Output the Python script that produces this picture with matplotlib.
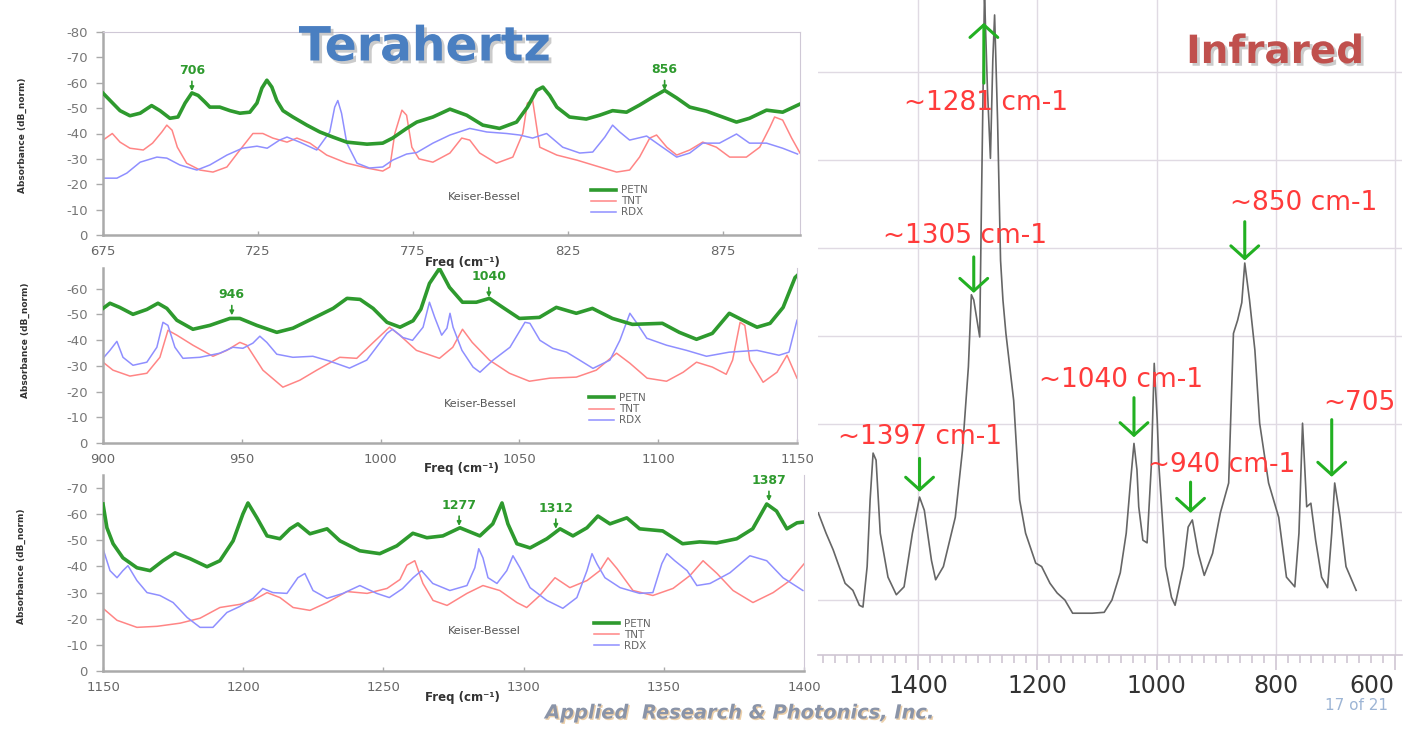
import numpy as np
import matplotlib
matplotlib.use('Agg')
import matplotlib.pyplot as plt
import matplotlib.patheffects as pe
from matplotlib.ticker import MultipleLocator

plt.rcParams['font.family'] = ['DejaVu Sans']
plt.rcParams['axes.unicode_minus'] = False

# ---- terahertz data: (freq cm-1, absorbance magnitude dB_norm) ----
petn_1 = [(675, 55.9), (677.3, 53), (680.5, 49), (683.7, 47), (687, 48), (690.7, 51), (693.4, 49),
          (696.6, 46), (699.2, 46.5), (701.5, 52), (703.7, 56), (705.7, 55), (707.9, 52.4), (709.5, 50.4),
          (712.7, 50.4), (716, 49), (719.2, 48), (722.4, 48.4), (724.7, 52), (726.3, 57.9), (727.9, 61),
          (729.5, 58.3), (731.1, 53), (733.1, 49), (736.3, 46.5), (740.8, 43.3), (745, 40.6), (749.2, 38.6),
          (753.7, 36.6), (760.2, 35.8), (765.3, 36.2), (768.5, 38.2), (773, 42), (776.3, 44.5), (781.5, 46.5),
          (787, 49.6), (792.4, 47.2), (797.6, 43.3), (803, 42), (808.5, 44.5), (812, 50.4), (815, 57),
          (817, 58.3), (819.2, 55), (821.5, 50.4), (825.6, 46.5), (831, 45.7), (835.3, 47.2), (839.5, 49),
          (844, 48.4), (848.2, 51.2), (852.4, 54.3), (856.3, 57), (860.2, 54), (864.4, 50.4), (869.8, 48.8),
          (875, 46.5), (879.5, 44.5), (883.7, 46), (889.2, 49.2), (894.4, 48.4), (900, 51.6)]
tnt_1 = [(675, 37.4), (678, 40), (680.5, 36.6), (683.7, 34.2), (688, 33.5), (691, 36.2), (694, 40.6),
         (695.6, 43.3), (697.3, 41.3), (699, 34.6), (702, 28.3), (706.3, 25.6), (710.5, 24.8), (715, 26.8),
         (719.2, 33.5), (723.4, 40), (726.6, 40), (729.8, 38.2), (734.4, 36.6), (737.6, 38.2), (741.8, 36.2),
         (747.2, 31.5), (753.7, 28.3), (760.2, 26.4), (765.3, 25.2), (767.6, 26.8), (769.2, 40), (771.5, 49.2),
         (773, 47.2), (774.7, 34.6), (777, 30), (781.5, 28.7), (787, 32.3), (790.8, 38.2), (793.4, 37.4),
         (796.6, 32.3), (802, 28.3), (807.3, 30.7), (810.5, 40), (812, 52), (813.7, 53), (815, 42.5),
         (816, 34.6), (821.5, 31.5), (828, 29.5), (835.3, 26.8), (840.8, 24.8), (845, 25.6), (848.2, 30.7),
         (851.5, 38.2), (853.7, 39.4), (857, 34.6), (860.2, 31.5), (864.4, 33.5), (868.6, 36.6), (873, 34.6),
         (877.3, 30.7), (882.7, 30.7), (887, 34.6), (890.3, 42.5), (891.8, 46.5), (894.4, 45.3), (897.3, 38.2),
         (900, 32.3)]
rdx_1 = [(675, 22.4), (679.5, 22.4), (682.7, 24.4), (687, 28.7), (692.4, 30.7), (695.6, 30.3), (699.8, 27.6),
         (705.3, 25.6), (709.5, 27.6), (715, 31.5), (720, 34.2), (724.7, 35), (728, 34.2), (732, 37.4),
         (734.4, 38.6), (738.5, 36.6), (744, 33.5), (748.2, 40.6), (749.8, 50.4), (750.8, 53), (752, 48),
         (753.7, 36.2), (757, 28.3), (761, 26.4), (765.3, 26.8), (768.5, 29.5), (773, 31.9), (776.3, 32.5),
         (781.5, 36.2), (787, 39.4), (793.4, 42), (798.9, 40.6), (805.3, 40), (809.5, 39.4), (813.7, 38.2),
         (818.2, 40), (823.4, 34.6), (828.9, 32.3), (833.1, 32.7), (837, 38.6), (839.5, 43.3), (841.8, 40.6),
         (845, 37.4), (850.5, 39), (855.6, 34.6), (860.2, 30.7), (864.4, 32.3), (868.6, 36.2), (874, 36.2),
         (879.5, 39.8), (883.7, 36.2), (889.2, 36.2), (894.4, 34.2), (899.2, 31.9)]

petn_2 = [(900, 52.3), (902.5, 54.3), (906, 52.7), (910.8, 50), (915.8, 51.9), (919.8, 54.3), (923, 52.3),
          (926.6, 47.7), (932.4, 44.2), (938.5, 45.7), (945.7, 48.4), (949.3, 48.4), (955.4, 45.7), (962.6, 43),
          (968.4, 44.6), (975.6, 48.4), (982.9, 52.3), (987.9, 56.2), (992.6, 55.8), (997.3, 52.3),
          (1002.3, 46.9), (1007, 45), (1011.7, 47.5), (1014.5, 52), (1017.6, 62), (1021.2, 67.8), (1024.8, 60.5),
          (1029.5, 54.7), (1034.5, 54.7), (1039.2, 56.2), (1044, 52.7), (1050, 48.4), (1057.2, 48.8),
          (1063.3, 52.7), (1070.5, 50.4), (1076.3, 52.3), (1083.5, 48.4), (1090.7, 46.1), (1101.5, 46.5),
          (1107.6, 43), (1113.8, 40.3), (1119.5, 42.6), (1125.6, 50.4), (1130.5, 47.7), (1135.6, 45),
          (1140.3, 46.5), (1145, 52.7), (1149.3, 64.3), (1150, 65)]
tnt_2 = [(900, 31.4), (903.6, 28.3), (909.7, 26), (915.8, 27.1), (920.5, 33.3), (923.4, 43.8), (926.6, 41.9),
         (932.4, 38), (939.6, 33.7), (944.6, 36), (949.3, 39.1), (951.8, 38), (957.6, 28.3), (964.8, 21.7),
         (970.9, 24.4), (977, 28.3), (985.3, 33.3), (991.4, 32.9), (997.1, 38.8), (1003.2, 45), (1006.8, 42),
         (1012.9, 36), (1021.2, 32.9), (1026, 37.2), (1029.5, 44.2), (1033, 39.1), (1039.2, 32.2),
         (1046.4, 27.1), (1053.6, 24), (1061, 25.2), (1070.5, 25.6), (1077.7, 28.3), (1085, 34.9),
         (1089.8, 31), (1096, 25.2), (1103, 24), (1109, 27.5), (1113.8, 31.4), (1119.5, 29.5), (1124.5, 26.7),
         (1126.8, 32.2), (1129.5, 46.9), (1131.2, 45.7), (1133, 32.2), (1137.8, 23.6), (1142.8, 27.5),
         (1146.4, 34.1), (1150, 25.2)]
rdx_2 = [(900, 32.9), (902.5, 36), (905, 39.5), (907.2, 33.3), (910.8, 30.2), (915.8, 31.4), (919.4, 37.2),
         (921.6, 46.9), (923.4, 45.7), (925.9, 37.2), (928.8, 32.9), (934.9, 33.3), (942.1, 34.9),
         (946.8, 37.2), (950.4, 36.8), (954, 38.8), (956.5, 41.5), (959, 39.1), (962.6, 34.5), (968.4, 33.3),
         (975.6, 33.7), (981.7, 31.8), (988.8, 29.1), (995, 32.2), (1002.3, 42.6), (1004.3, 44.2), (1008, 41),
         (1011.5, 39.9), (1015.3, 45), (1017.6, 54.7), (1019.5, 48.8), (1022, 41.9), (1023.9, 44.6),
         (1025, 50.4), (1026.1, 45), (1029.3, 36), (1033.3, 29.5), (1035.8, 27.5), (1040.5, 32.2),
         (1046.6, 37.2), (1052, 46.9), (1053.8, 46.5), (1057.4, 39.9), (1062, 36.8), (1067, 35.3),
         (1071.7, 32.2), (1076.5, 29), (1082.6, 32.2), (1086.2, 39.9), (1089.8, 50.4), (1092.1, 46.9),
         (1095.9, 40.7), (1103, 38), (1110.2, 36), (1117.4, 33.7), (1125.6, 35.3), (1135.6, 36),
         (1143.5, 34.1), (1147.1, 35.3), (1150, 47.7)]

petn_3 = [(1150, 63.9), (1151.4, 54.8), (1153.6, 48.7), (1157.1, 43.3), (1162.1, 39.5), (1166.8, 38.4),
          (1171.4, 42.2), (1175.7, 45.2), (1181, 43), (1187.1, 39.9), (1191.7, 42.2), (1196.4, 49.8),
          (1199.9, 60.1), (1201.7, 64.3), (1204.9, 58.6), (1208.5, 51.7), (1213.1, 50.6), (1216.7, 54.4),
          (1219.5, 56.3), (1223.8, 52.5), (1229.9, 54.4), (1234.5, 49.8), (1241.6, 46), (1248.7, 44.9),
          (1254.8, 47.9), (1260.5, 52.7), (1265.5, 51), (1271.2, 51.7), (1277.3, 54.8), (1284.4, 51.7),
          (1289, 56.3), (1292.3, 64.3), (1294.4, 56.3), (1297.6, 48.7), (1302.3, 47.1), (1308.3, 50.6),
          (1313, 54.4), (1317.6, 51.7), (1322.6, 54.8), (1326.5, 59.3), (1330.8, 56.3), (1336.8, 58.6),
          (1341.4, 54.4), (1349.6, 53.6), (1356.7, 48.7), (1362.8, 49.4), (1368.8, 49), (1376, 50.6),
          (1381.7, 54.4), (1386.7, 63.9), (1390.2, 61.2), (1393.9, 54.4), (1397.5, 56.7), (1400, 57)]
tnt_3 = [(1150, 24), (1155, 19.4), (1162.1, 16.7), (1169.3, 17.1), (1177.5, 18.3), (1184.6, 20.2),
         (1191.7, 24.3), (1198.8, 25.5), (1203.5, 27), (1208.5, 30), (1213.1, 28.1), (1217.8, 24.3),
         (1223.8, 23.2), (1229.9, 26.2), (1237, 30.4), (1244.2, 29.7), (1251.3, 31.6), (1255.9, 35),
         (1258.4, 40.5), (1261.2, 42.2), (1264.1, 33.5), (1267.7, 27), (1272.7, 25.1), (1279.8, 29.7),
         (1285.5, 32.7), (1291.5, 30.8), (1297.6, 26.2), (1301.1, 24.3), (1305.8, 28.9), (1311.2, 35.7),
         (1316.5, 31.9), (1322.6, 34.6), (1327.2, 38.4), (1330.1, 43.3), (1333.3, 39.2), (1339, 30.8),
         (1346.1, 28.9), (1353.3, 31.6), (1359.3, 36.5), (1364, 42.2), (1369, 37.3), (1374.7, 30.8),
         (1381.8, 26.2), (1389, 30), (1395, 34.6), (1400, 41)]
rdx_3 = [(1150, 46.8), (1152.5, 38.4), (1155, 35.7), (1157.1, 38.4), (1158.9, 40.3), (1162.1, 34.6),
         (1165.7, 30), (1170.3, 28.9), (1175, 26.2), (1180, 20.5), (1184.6, 16.7), (1189.2, 16.7),
         (1194.2, 22.4), (1198.8, 24.7), (1203.5, 27.8), (1207, 31.6), (1210.6, 30), (1215.6, 29.7),
         (1219.5, 35.7), (1222, 37.3), (1224.9, 30.8), (1229.9, 27.8), (1235.6, 29.7), (1241.6, 32.7),
         (1247.6, 29.7), (1252.1, 28.1), (1256.8, 31.5), (1260.6, 35.7), (1263.6, 38.4), (1267.6, 33.5),
         (1273.7, 30.8), (1279.8, 32.7), (1282.6, 39.5), (1284, 46.8), (1285.5, 43.3), (1287.3, 35.7),
         (1290.5, 33.5), (1294, 38.4), (1296.2, 44.1), (1298.7, 39.5), (1302.3, 31.9), (1308.3, 27),
         (1314, 24), (1319, 28.1), (1322.6, 38.4), (1324.4, 44.9), (1326.1, 41.1), (1329, 35.7),
         (1334.4, 31.9), (1341.4, 29.7), (1346.1, 30), (1349.3, 41.1), (1351.1, 44.9), (1353.9, 42.2),
         (1358.3, 38.4), (1361.8, 32.7), (1366.5, 33.5), (1373.6, 37.6), (1380.7, 44.1), (1386.7, 42.2),
         (1392.5, 35.7), (1399.6, 30.8)]

thz_xlims = [(675, 900), (900, 1150), (1150, 1400)]
thz_xticks = [[675, 725, 775, 825, 875], [900, 950, 1000, 1050, 1100, 1150],
              [1150, 1200, 1250, 1300, 1350, 1400]]
thz_ymax = [80, 68, 75]
thz_ytop_tick = [80, 60, 70]

peak_panel = [0, 0, 1, 1, 2, 2, 2]
peak_labels = ['706', '856', '946', '1040', '1277', '1312', '1387']
peak_freq = [703.7, 856.3, 946.4, 1039, 1277, 1311.5, 1387.5]
peak_tip = [56.7, 57, 49.6, 56.6, 55.5, 54.4, 65]

# ---- infrared spectrum: (wavenumber, signal, arbitrary units) ----
ir_spec = [(1568, 1.99), (1555, 1.76), (1543, 1.57), (1523, 1.19), (1510, 1.11), (1499, 0.94), (1493, 0.92),
           (1486, 1.38), (1481, 2.14), (1476, 2.67), (1471, 2.59), (1464, 1.76), (1451, 1.26), (1437, 1.06),
           (1424, 1.15), (1410, 1.76), (1398, 2.17), (1390, 2.02), (1378, 1.45), (1371, 1.23), (1358, 1.38),
           (1338, 1.94), (1326, 2.70), (1316, 3.65), (1311, 4.47), (1307, 4.41), (1297, 3.99), (1294, 5.55),
           (1289, 7.9), (1284, 6.8), (1279, 6.02), (1275, 7.14), (1272, 7.65), (1267, 6.45), (1262, 4.86),
           (1258, 4.41), (1253, 4.03), (1240, 3.27), (1230, 2.14), (1220, 1.76), (1203, 1.42), (1193, 1.38),
           (1179, 1.19), (1167, 1.08), (1154, 1.0), (1141, 0.85), (1108, 0.85), (1088, 0.86), (1075, 1.0),
           (1061, 1.31), (1051, 1.76), (1044, 2.33), (1038, 2.78), (1033, 2.48), (1030, 2.06), (1023, 1.68),
           (1016, 1.65), (1009, 2.51), (1004, 3.69), (999, 3.05), (996, 2.51), (985, 1.38), (975, 1.03),
           (969, 0.94), (955, 1.38), (947, 1.83), (940, 1.91), (930, 1.53), (920, 1.28), (906, 1.53),
           (893, 1.99), (879, 2.33), (871, 4.03), (864, 4.18), (857, 4.38), (852, 4.83), (844, 4.41),
           (835, 3.84), (827, 3.01), (812, 2.33), (795, 1.94), (782, 1.26), (768, 1.15), (761, 1.76),
           (755, 3.01), (748, 2.06), (741, 2.10), (733, 1.68), (723, 1.26), (713, 1.14), (706, 1.76),
           (701, 2.33), (692, 1.94), (682, 1.38), (665, 1.11)]

ir_labels = ['~1281 cm-1', '~1305 cm-1', '~850 cm-1', '~1040 cm-1', '~1397 cm-1', '~940 cm-1', '~705']
ir_label_wn = [1287, 1321, 753, 1060, 1397, 891, 659]
ir_label_v = [6.65, 5.14, 5.51, 3.5, 2.85, 2.53, 3.24]
ir_arrow_wn = [1290, 1307, 852, 1038, 1398, 943, 706]
ir_arrow_tail = [6.875, 4.9, 5.3, 3.3, 2.61, 2.34, 3.05]
ir_arrow_tip = [7.56, 4.49, 4.86, 2.85, 2.23, 1.99, 2.4]

W, H = 1421, 729
green = '#2e9a2e'
red = '#ff8585'
blue = '#8f8fff'


def box(x0, y0, x1, y1):
    return [x0 / W, 1 - y1 / H, (x1 - x0) / W, (y1 - y0) / H]


fig = plt.figure(figsize=(W / 100, H / 100), dpi=100)

thz_boxes = [(103, 32, 800, 235), (103, 268, 797, 443), (103, 475, 804, 671)]
series = [(petn_1, tnt_1, rdx_1), (petn_2, tnt_2, rdx_2), (petn_3, tnt_3, rdx_3)]
legend_pos = [(0.70, 0.245), (0.70, 0.285), (0.70, 0.265)]
kb_pos = [(0.547, 0.187), (0.543, 0.223), (0.544, 0.204)]
ylab_pos = [(-0.116, 0.49), (-0.112, 0.59), (-0.117, 0.535)]
xlab_pos = [(0.515, -0.135), (0.517, -0.148), (0.513, -0.133)]

axes = []
for i in range(3):
    ax = fig.add_axes(box(*thz_boxes[i]))
    axes.append(ax)
    petn, tnt, rdx = [np.array(s) for s in series[i]]
    l1, = ax.plot(petn[:, 0], -petn[:, 1], color=green, lw=2.6, zorder=3)
    l2, = ax.plot(tnt[:, 0], -tnt[:, 1], color=red, lw=1.1, zorder=2)
    l3, = ax.plot(rdx[:, 0], -rdx[:, 1], color=blue, lw=1.1, zorder=2)
    ax.set_xlim(*thz_xlims[i])
    ax.set_ylim(0, -thz_ymax[i])
    ax.set_yticks(np.arange(0, -thz_ytop_tick[i] - 1, -10))
    ax.set_xticks(thz_xticks[i])
    ax.tick_params(axis='y', direction='out', length=5, width=1, color='#aaaaaa',
                   labelsize=9.5, labelcolor='#777777', pad=6)
    ax.tick_params(axis='x', direction='in', length=3, width=1, color='#aaaaaa',
                   labelsize=9.5, labelcolor='#666666', pad=7)
    for s in ['left', 'bottom']:
        ax.spines[s].set_color('#aaaaaa')
        ax.spines[s].set_linewidth(1.8)
    ax.spines['right'].set_color('#cfc8d6')
    ax.spines['top'].set_color('#cfc8d6')
    ax.spines['top'].set_visible(i == 0)
    ax.legend([l1, l2, l3], ['PETN', 'TNT', 'RDX'], loc='upper left',
              bbox_to_anchor=legend_pos[i], frameon=False, fontsize=7.5,
              handlelength=2.4, handletextpad=0.5, labelspacing=0.1,
              borderpad=0, borderaxespad=0, labelcolor='#666666')
    ax.text(*kb_pos[i], 'Keiser-Bessel', transform=ax.transAxes, ha='center', va='center',
            fontsize=8, color='#555555')
    ax.text(*ylab_pos[i], 'Absorbance (dB_norm)', transform=ax.transAxes, ha='center',
            va='center', rotation=90, fontsize=6.5, fontweight='bold', color='#333333')
    ax.text(*xlab_pos[i], 'Freq (cm⁻¹)', transform=ax.transAxes, ha='center', va='center',
            fontsize=8.5, fontweight='bold', color='#333333')

for p, lbl, f, tip in zip(peak_panel, peak_labels, peak_freq, peak_tip):
    axes[p].annotate(lbl, xy=(f, -tip), xytext=(0, 14), textcoords='offset pixels',
                     ha='center', va='bottom', fontsize=9, fontweight='bold', color=green,
                     arrowprops=dict(arrowstyle='-|>', color=green, lw=1.2,
                                     mutation_scale=6, shrinkA=1, shrinkB=0))

# ---- infrared panel ----
ax4 = fig.add_axes(box(818, 0, 1402, 655))
ir = np.array(ir_spec)
ax4.plot(ir[:, 0], ir[:, 1], color='#666666', lw=1.2, zorder=3)
ax4.set_xlim(1568.5, 588)
ax4.set_ylim(0.375, 7.82)
ax4.set_xticks([1400, 1200, 1000, 800, 600])
ax4.xaxis.set_minor_locator(MultipleLocator(20))
ax4.set_yticks(range(1, 8))
ax4.grid(True, which='major', color='#e0dae3', lw=1.0)
ax4.tick_params(axis='y', left=False, labelleft=False)
ax4.tick_params(axis='x', which='major', direction='out', length=11, width=1.2,
                color='#cfc6d3', labelsize=17, labelcolor='#333333', pad=3)
ax4.tick_params(axis='x', which='minor', direction='out', length=6, width=1.2, color='#cfc6d3')
for s in ['left', 'top', 'right']:
    ax4.spines[s].set_visible(False)
ax4.spines['bottom'].set_color('#cfc6d3')
ax4.spines['bottom'].set_linewidth(1.2)
ax4.get_xticklabels()[-1].set_ha('right')

for lbl, lx, ly in zip(ir_labels, ir_label_wn, ir_label_v):
    ax4.text(lx, ly, lbl, ha='center', va='center', fontsize=19, color='#ff3b3b', zorder=5)
for ax_wn, tail, tip in zip(ir_arrow_wn, ir_arrow_tail, ir_arrow_tip):
    ax4.annotate('', xy=(ax_wn, tip), xytext=(ax_wn, tail),
                 arrowprops=dict(arrowstyle='->,head_length=0.45,head_width=0.5', color='#22b022',
                                 lw=2.2, mutation_scale=20, shrinkA=0, shrinkB=0), zorder=6)

# ---- titles and footer ----
fig.text(425 / W, 1 - 48 / H, 'Terahertz', ha='center', va='center', fontsize=34,
         fontweight='bold', color='#4a7fc1',
         path_effects=[pe.withSimplePatchShadow(offset=(2, -2), shadow_rgbFace='#999999', alpha=0.5)])
fig.text(1275 / W, 1 - 52 / H, 'Infrared', ha='center', va='center', fontsize=28,
         fontweight='bold', color='#c0504d',
         path_effects=[pe.withSimplePatchShadow(offset=(2, -2), shadow_rgbFace='#999999', alpha=0.5)])
fig.text(740 / W, 1 - 713 / H, 'Applied  Research & Photonics, Inc.', ha='center', va='center',
         fontsize=14, fontweight='bold', style='italic', color='#8a94a8',
         path_effects=[pe.withSimplePatchShadow(offset=(1, -1), shadow_rgbFace='#e0b070', alpha=0.6)])
fig.text(1325 / W, 1 - 706 / H, '17 of 21', ha='left', va='center', fontsize=11, color='#9db5d5')

fig.savefig('out.png', dpi=100)
